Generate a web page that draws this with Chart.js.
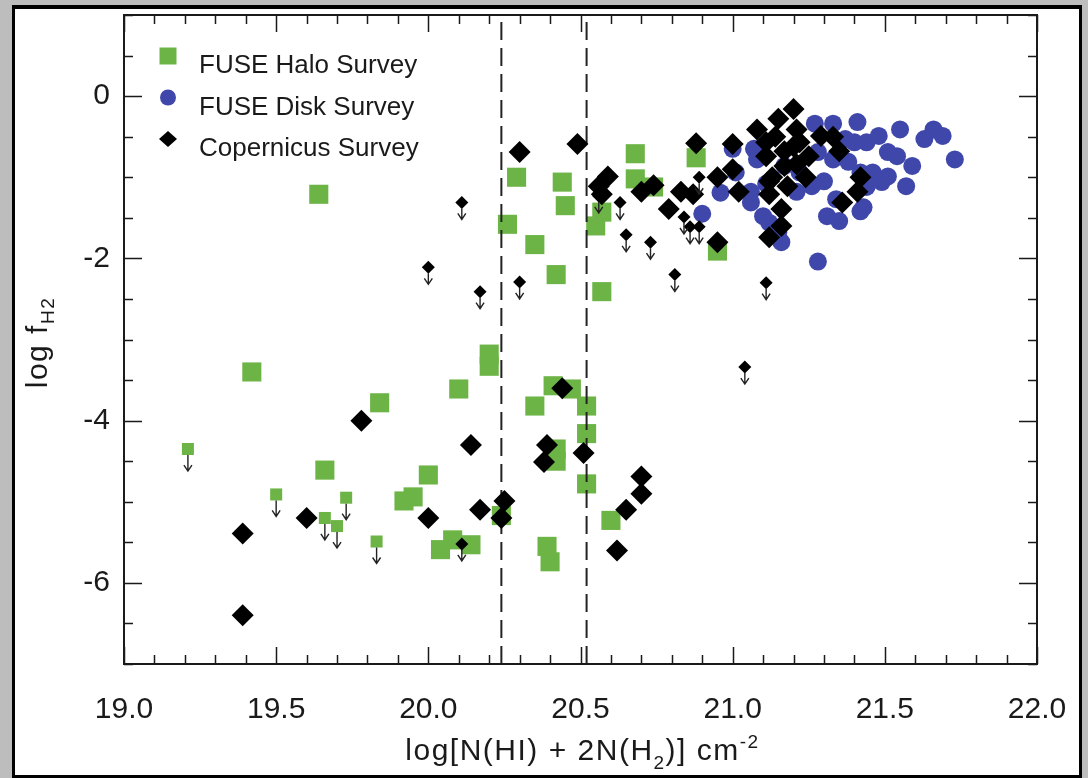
<!DOCTYPE html>
<html>
<head>
<meta charset="utf-8">
<script src="https://cdn.jsdelivr.net/npm/chart.js@4"></script>
<style>
  html, body { margin: 0; padding: 0; }
  body { width: 1088px; height: 778px; background: #bdbdbd; position: relative; overflow: hidden; }
  #frame { position: absolute; left: 12px; top: 5px; width: 1070px; height: 773px; box-sizing: border-box;
           border: 3px solid #000; border-top-width: 4px; background: #fff; }
  #chart { position: absolute; left: 0; top: 0; }
</style>
</head>
<body>
<div id="frame"></div>
<canvas id="chart" width="1088" height="778"></canvas>
<script>
// FUSE Halo Survey (detections)
const haloX = [19.64, 19.42, 19.66, 19.84, 20.00, 19.92, 19.95, 20.10, 20.20, 20.20,
               20.04, 20.08, 20.14, 20.24, 20.35, 20.41, 20.47, 20.52, 20.52, 20.42,
               20.42, 20.52, 20.60, 20.39, 20.40, 20.29, 20.44, 20.45, 20.26, 20.35,
               20.42, 20.57, 20.55, 20.57, 20.68, 20.68, 20.74, 20.88, 20.95];
const haloY = [-1.21, -3.40, -4.61, -3.78, -4.67, -4.99, -4.94, -3.61, -3.18, -3.33,
               -5.59, -5.47, -5.53, -5.17, -3.82, -3.57, -3.61, -3.82, -4.16, -4.35,
               -4.50, -4.78, -5.23, -5.55, -5.74, -1.00, -1.06, -1.35, -1.58, -1.83,
               -2.20, -2.41, -1.60, -1.43, -0.71, -1.02, -1.12, -0.76, -1.91];
// FUSE Halo Survey (upper limits)
const haloLimX = [19.21, 19.50, 19.73, 19.66, 19.70, 19.83];
const haloLimY = [-4.35, -4.91, -4.95, -5.20, -5.30, -5.49];

// FUSE Disk Survey
const diskX = [20.96, 20.90, 21.06, 21.12, 21.16, 21.28, 21.31, 21.35, 21.42, 21.44,
               21.49, 21.57, 21.59, 21.54, 21.55, 21.63, 21.66, 21.69, 21.73, 21.41,
               21.33, 21.27, 21.30, 21.21, 21.06, 21.00, 21.08, 21.01, 21.11, 21.26,
               21.40, 21.44, 21.48, 21.51, 21.46, 21.42, 21.38, 21.33, 21.51, 21.34,
               21.43, 21.22, 21.28, 21.17, 21.10, 21.37, 21.07, 21.15];
const diskY = [-1.19, -1.45, -1.31, -1.56, -1.80, -2.04, -1.48, -1.54, -1.42, -1.12,
               -1.06, -1.11, -0.86, -0.74, -0.41, -0.53, -0.41, -0.49, -0.78, -0.32,
               -0.34, -0.34, -1.05, -1.18, -1.18, -0.65, -0.78, -0.94, -1.08, -1.11,
               -0.57, -0.57, -0.49, -0.69, -0.94, -0.94, -0.81, -0.78, -0.99, -1.27,
               -1.37, -0.94, -0.69, -0.86, -1.48, -0.53, -0.65, -1.68];

// Copernicus Survey (detections)
const copX = [19.39, 19.39, 19.60, 19.78, 20.14, 20.00, 20.17, 20.25, 20.24, 20.44,
              20.39, 20.38, 20.51, 20.70, 20.70, 20.65, 20.62, 20.30, 20.49, 20.88,
              20.59, 20.56, 20.57, 20.70, 20.74, 20.79, 20.83, 20.87, 20.95, 21.00,
              21.00, 21.02, 21.08, 21.11, 21.15, 21.20, 21.12, 21.16, 21.16, 21.12,
              20.95, 21.14, 21.11, 21.17, 21.21, 21.22, 21.25, 21.29, 21.33, 21.35,
              21.13, 21.12, 21.18, 21.24, 21.42, 21.41, 21.36, 21.17, 21.20, 21.21];
const copY = [-5.39, -6.40, -5.20, -4.00, -4.30, -5.20, -5.10, -4.99, -5.20, -3.60,
              -4.30, -4.51, -4.40, -4.69, -4.90, -5.10, -5.60, -0.69, -0.59, -0.58,
              -0.99, -1.11, -1.21, -1.18, -1.10, -1.39, -1.18, -1.21, -1.00, -0.59,
              -0.90, -1.18, -0.41, -0.57, -0.28, -0.16, -1.05, -1.39, -1.60, -1.74,
              -1.80, -0.50, -0.74, -0.68, -0.41, -0.57, -0.74, -0.49, -0.50, -0.68,
              -1.00, -1.21, -1.11, -1.00, -1.00, -1.18, -1.31, -0.86, -0.62, -0.84];
// Copernicus Survey (upper limits)
const copLimX = [20.11, 20.00, 20.17, 20.30, 20.56, 20.63, 20.65, 20.73, 20.81, 20.84,
                 20.86, 20.89, 20.89, 21.11, 21.04, 20.11];
const copLimY = [-1.31, -2.11, -2.41, -2.29, -1.23, -1.31, -1.71, -1.80, -2.20, -1.49,
                 -1.61, -1.61, -1.00, -2.30, -3.34, -5.52];

// dashed vertical boundaries
const dashX = [20.24, 20.52];

const xTicks = [19.0, 19.5, 20.0, 20.5, 21.0, 21.5, 22.0];
const yTicks = [-6, -4, -2, 0];
const xMinorStep = 0.1;
const yMinorStep = 0.5;

const GREEN = '#6db446';
const BLUE = '#3f48aa';
const INK = '#1a1a1a';
const FONT = '"Liberation Sans", Arial, Helvetica, sans-serif';

const pts = (xs, ys) => xs.map((x, i) => ({ x: x, y: ys[i] }));

const datasets = [
  { label: 'FUSE Halo Survey', data: pts(haloX, haloY), pointStyle: 'rect', pointRadius: 13.5,
    backgroundColor: GREEN, borderWidth: 0, order: 6 },
  { label: 'FUSE Disk Survey', data: pts(diskX, diskY), pointStyle: 'circle', pointRadius: 9,
    backgroundColor: BLUE, borderWidth: 0, order: 4 },
  { label: 'Copernicus Survey', data: pts(copX, copY), pointStyle: 'rectRot', pointRadius: 11,
    backgroundColor: '#000', borderWidth: 0, order: 2 },
  { label: 'FUSE Halo Survey (limit)', data: pts(haloLimX, haloLimY), pointStyle: 'rect', pointRadius: 8.5,
    backgroundColor: GREEN, borderWidth: 0, order: 5, limitArrow: [6, 22] },
  { label: 'Copernicus Survey (limit)', data: pts(copLimX, copLimY), pointStyle: 'rectRot', pointRadius: 6.5,
    backgroundColor: '#000', borderWidth: 0, order: 1, limitArrow: [6, 17] }
];
dashX.forEach(x => datasets.push({
  label: 'dash', data: [{ x: x, y: -7 }, { x: x, y: 1 }], showLine: true, pointRadius: 0,
  borderColor: '#222', borderWidth: 2, borderDash: [18, 8], order: 3
}));

const framePlugin = {
  id: 'framePlugin',
  afterDatasetsDraw(chart) {
    const ctx = chart.ctx;
    ctx.save();
    ctx.strokeStyle = '#222';
    ctx.lineWidth = 1.4;
    chart.data.datasets.forEach((ds, i) => {
      if (!ds.limitArrow) return;
      chart.getDatasetMeta(i).data.forEach(p => {
        const y0 = p.y + ds.limitArrow[0], y1 = p.y + ds.limitArrow[1];
        ctx.beginPath();
        ctx.moveTo(p.x, y0); ctx.lineTo(p.x, y1);
        ctx.moveTo(p.x - 4, y1 - 6); ctx.lineTo(p.x, y1); ctx.lineTo(p.x + 4, y1 - 6);
        ctx.stroke();
      });
    });
    ctx.restore();
  },
  afterDraw(chart) {
    const ctx = chart.ctx, a = chart.chartArea;
    const xs = chart.scales.x, ys = chart.scales.y;
    ctx.save();
    // frame
    ctx.strokeStyle = INK;
    ctx.lineWidth = 2;
    ctx.strokeRect(a.left, a.top, a.right - a.left, a.bottom - a.top);
    // inward ticks on all four sides
    ctx.lineWidth = 1.5;
    ctx.beginPath();
    for (let v = xs.min; v <= xs.max + 1e-9; v += xMinorStep) {
      const px = Math.round(xs.getPixelForValue(v)) + 0.5;
      const major = Math.abs(v * 2 - Math.round(v * 2)) < 1e-6;
      const len = major ? 17 : 9;
      ctx.moveTo(px, a.bottom); ctx.lineTo(px, a.bottom - len);
      ctx.moveTo(px, a.top); ctx.lineTo(px, a.top + len);
    }
    for (let v = ys.min; v <= ys.max + 1e-9; v += yMinorStep) {
      const py = Math.round(ys.getPixelForValue(v)) + 0.5;
      const major = Math.abs(v / 2 - Math.round(v / 2)) < 1e-6;
      const len = major ? 18 : 9;
      ctx.moveTo(a.left, py); ctx.lineTo(a.left + len, py);
      ctx.moveTo(a.right, py); ctx.lineTo(a.right - len, py);
    }
    ctx.stroke();

    // axis titles with sub/superscripts
    ctx.fillStyle = INK;
    ctx.textBaseline = 'alphabetic';
    ctx.letterSpacing = '1.5px';
    const big = '30px ' + FONT, small = '19px ' + FONT;
    const xParts = [['log[N(HI) + 2N(H', big, 0], ['2', small, 9], [')] cm', big, 0], ['-2', small, -12]];
    const measure = parts => parts.reduce((w, p) => { ctx.font = p[1]; return w + ctx.measureText(p[0]).width; }, 0);
    let tx = (a.left + a.right) / 2 + 2 - measure(xParts) / 2;
    xParts.forEach(p => { ctx.font = p[1]; ctx.fillText(p[0], tx, 760 + p[2]); tx += ctx.measureText(p[0]).width; });

    const yParts = [['log f', big, 0], ['H2', small, 7]];
    ctx.save();
    ctx.translate(47, (a.top + a.bottom) / 2 + 3);
    ctx.rotate(-Math.PI / 2);
    let ty = -measure(yParts) / 2;
    yParts.forEach(p => { ctx.font = p[1]; ctx.fillText(p[0], ty, p[2]); ty += ctx.measureText(p[0]).width; });
    ctx.restore();
    ctx.letterSpacing = '0px';

    // legend
    const lx = 168, rows = [56, 97.5, 139];
    ctx.font = '26px ' + FONT;
    [0, 1, 2].forEach((di, r) => {
      const ds = chart.data.datasets[di], cy = rows[r];
      ctx.fillStyle = ds.backgroundColor;
      ctx.beginPath();
      if (ds.pointStyle === 'rect') ctx.rect(lx - 8.5, cy - 8.5, 17, 17);
      else if (ds.pointStyle === 'circle') ctx.arc(lx, cy, 8, 0, Math.PI * 2);
      else { ctx.moveTo(lx - 9, cy); ctx.lineTo(lx, cy - 8); ctx.lineTo(lx + 9, cy); ctx.lineTo(lx, cy + 8); ctx.closePath(); }
      ctx.fill();
      ctx.fillStyle = INK;
      ctx.fillText(ds.label, 199, cy + 17);
    });
    ctx.restore();
  }
};

new Chart(document.getElementById('chart'), {
  type: 'scatter',
  data: { datasets: datasets },
  options: {
    responsive: false,
    animation: false,
    events: [],
    layout: { padding: { top: 15, right: 51, left: 0, bottom: 0 } },
    plugins: { legend: { display: false }, tooltip: { enabled: false } },
    scales: {
      x: {
        type: 'linear', min: 19, max: 22,
        grid: { display: false, drawTicks: false },
        border: { display: false },
        ticks: { color: INK, font: { family: FONT, size: 30 }, padding: 28, maxRotation: 0, autoSkip: false,
                 callback: v => Number(v).toFixed(1) },
        afterBuildTicks: s => { s.ticks = xTicks.map(v => ({ value: v })); },
        afterFit: s => { s.height = 114; s.paddingLeft = 0; s.paddingRight = 0; }
      },
      y: {
        type: 'linear', min: -7, max: 1,
        grid: { display: false, drawTicks: false },
        border: { display: false },
        ticks: { color: INK, font: { family: FONT, size: 30 }, padding: 14, autoSkip: false,
                 callback: v => String(v) },
        afterBuildTicks: s => { s.ticks = yTicks.map(v => ({ value: v })); },
        afterFit: s => { s.width = 124; s.paddingTop = 0; s.paddingBottom = 0; }
      }
    }
  },
  plugins: [framePlugin]
});
</script>
</body>
</html>
